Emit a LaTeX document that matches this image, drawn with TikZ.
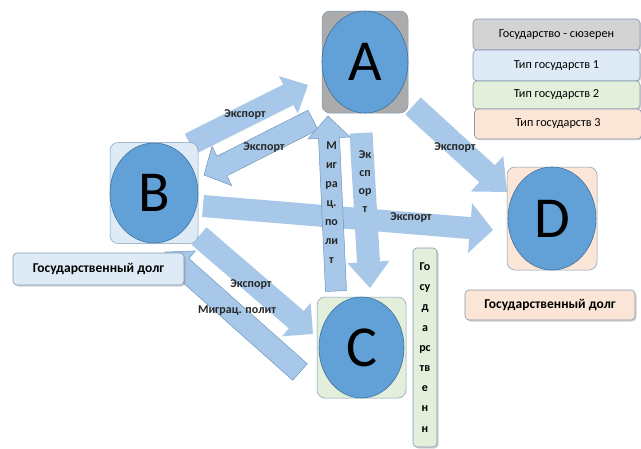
\documentclass[tikz,border=0pt]{standalone}
\usepackage{fontspec}
\setmainfont{Carlito}
\usetikzlibrary{calc,shapes.geometric,shadows}
\definecolor{ellfill}{HTML}{62A0D8}
\definecolor{elldraw}{HTML}{41719C}
\definecolor{arrfill}{HTML}{A7C8E8}
\definecolor{arrdraw}{HTML}{6F95BF}
\definecolor{agray}{HTML}{ABABAB}
\definecolor{leggray}{HTML}{D3D3D3}
\definecolor{bluefill}{HTML}{DEEBF7}
\definecolor{greenfill}{HTML}{E3EFDA}
\definecolor{peachfill}{HTML}{FBE5D6}
\definecolor{boxdraw}{HTML}{8497B0}
\newcommand\barrow[6]{%
  \path let \p1=(#2), \p2=(#3), \n1={atan2(\y2-\y1,\x2-\x1)}, \n2={veclen(\x2-\x1,\y2-\y1)} in
    \pgfextra{\xdef\bangle{\n1}\xdef\blen{\n2}\xdef\bx{\x1}\xdef\by{\y1}};
  \begin{scope}[shift={(\bx,\by)}, rotate=\bangle, x=1pt, y=1pt]
    \path[#1] (0,-#4) -- ({\blen-#6},-#4) -- ({\blen-#6},-#5) -- (\blen,0)
      -- ({\blen-#6},#5) -- ({\blen-#6},#4) -- (0,#4) -- cycle;
  \end{scope}}
\tikzset{
  arr/.style={fill=arrfill},
  arro/.style={fill=arrfill, draw=arrdraw, line width=0.5pt},
  sq/.style={rectangle, rounded corners=8pt, draw=elldraw!70, line width=0.5pt, inner sep=0pt},
  ell/.style={ellipse, fill=ellfill, draw=elldraw, line width=0.6pt, inner sep=0pt,
    font=\fontsize{58}{58}\selectfont},
  lab/.style={font=\fontsize{12}{13}\selectfont\bfseries, text=black!85, inner sep=0pt},
  leg/.style={rectangle, rounded corners=4pt, draw=boxdraw, line width=0.6pt,
    minimum width=167pt, inner sep=0pt, font=\fontsize{12.2}{13}\selectfont,
    drop shadow={opacity=0.35, shadow xshift=1.2pt, shadow yshift=-1.2pt}},
  debt/.style={rectangle, rounded corners=4pt, draw=boxdraw, line width=0.6pt,
    inner sep=0pt, font=\fontsize{13.5}{14}\selectfont\bfseries,
    drop shadow={opacity=0.35, shadow xshift=1.5pt, shadow yshift=-1.5pt}},
}
\begin{document}
\begin{tikzpicture}[x=1pt,y=-1pt]
\useasboundingbox (0,0) rectangle (641,448);
% coordinates of arrows
\coordinate (t1) at (190,144); \coordinate (h1) at (308,85);
\coordinate (t2) at (313,120); \coordinate (h2) at (204,175);
\coordinate (t3) at (336,291); \coordinate (h3) at (328,116);
\coordinate (t4) at (361,133); \coordinate (h4) at (370,288);
\coordinate (t5) at (413,106); \coordinate (h5) at (507,192);
\coordinate (t6) at (203,206); \coordinate (h6) at (493,230);
\coordinate (t7) at (199,236); \coordinate (h7) at (313,334);
\coordinate (t8) at (300,372); \coordinate (h8) at (165,252);
% arrows
\barrow{arr}{t6}{h6}{11}{25}{23}
\barrow{arr}{t1}{h1}{11.5}{21}{22}
\barrow{arro}{t2}{h2}{11}{22}{20}
\barrow{arr}{t5}{h5}{11.5}{24}{27}
\barrow{arr}{t7}{h7}{11.5}{22}{22}
\barrow{arro}{t8}{h8}{11}{21}{22}
\barrow{arr}{t4}{h4}{11.5}{21}{26}
\barrow{arro}{t3}{h3}{10.5}{21}{22}
% state nodes
\node[sq, fill=agray, minimum width=86pt, minimum height=102pt] (A) at (365,62) {};
\node[ell, minimum width=86pt, minimum height=102pt] (Ae) at (A.center) {A};
\node[sq, fill=bluefill, minimum width=88pt, minimum height=101pt] (B) at (154,193) {};
\node[ell, minimum width=88pt, minimum height=100pt] (Be) at (B.center) {B};
\node[sq, fill=greenfill, minimum width=89pt, minimum height=101pt] (C) at (361.5,347.5) {};
\node[ell, minimum width=85pt, minimum height=101pt] (Ce) at (C.center) {C};
\node[sq, fill=peachfill, minimum width=90pt, minimum height=103pt] (D) at (552,218.5) {};
\node[ell, minimum width=88pt, minimum height=103pt] (De) at (D.center) {D};
% arrow labels
\node[lab] (l1) at (245,115) {Экспорт};
\node[lab] (l2) at (264,148) {Экспорт};
\node[lab] (l3) at (411,218) {Экспорт};
\node[lab] (l4) at (455,148) {Экспорт};
\node[lab] (l5) at (251,285) {Экспорт};
\node[lab] (l6) at (237,311) {Миграц. полит};
\node[lab, align=center, font=\fontsize{12}{19}\selectfont\bfseries] (l7) at (331.5,203) {М\\иг\\ра\\ц.\\по\\ли\\т};
\node[lab, align=center, font=\fontsize{12}{18}\selectfont\bfseries] (l8) at (365,182) {Эк\\сп\\ор\\т};
% debt boxes
\node[debt, fill=bluefill, minimum width=171pt, minimum height=32pt] (gd1) at (98.5,269) {Государственный долг};
\node[debt, fill=peachfill, minimum width=170pt, minimum height=30pt] (gd2) at (550,305) {Государственный долг};
\node[debt, fill=greenfill, minimum width=24pt, minimum height=199pt, align=center,
  font=\fontsize{12}{20.2}\selectfont\bfseries] (gd3) at (425,347.5) {Го\\су\\д\\а\\рс\\тв\\е\\н\\н};
% legend
\node[leg, fill=leggray, minimum height=31pt] (L0) at (556.5,34.5) {Государство - сюзерен};
\node[leg, fill=bluefill, minimum height=31pt] (L1) at (556.5,65.5) {Тип государств 1};
\node[leg, fill=greenfill, minimum height=28pt] (L2) at (556.5,95) {Тип государств 2};
\node[leg, fill=peachfill, minimum height=30pt] (L3) at (558,124) {Тип государств 3};
\end{tikzpicture}
\end{document}
